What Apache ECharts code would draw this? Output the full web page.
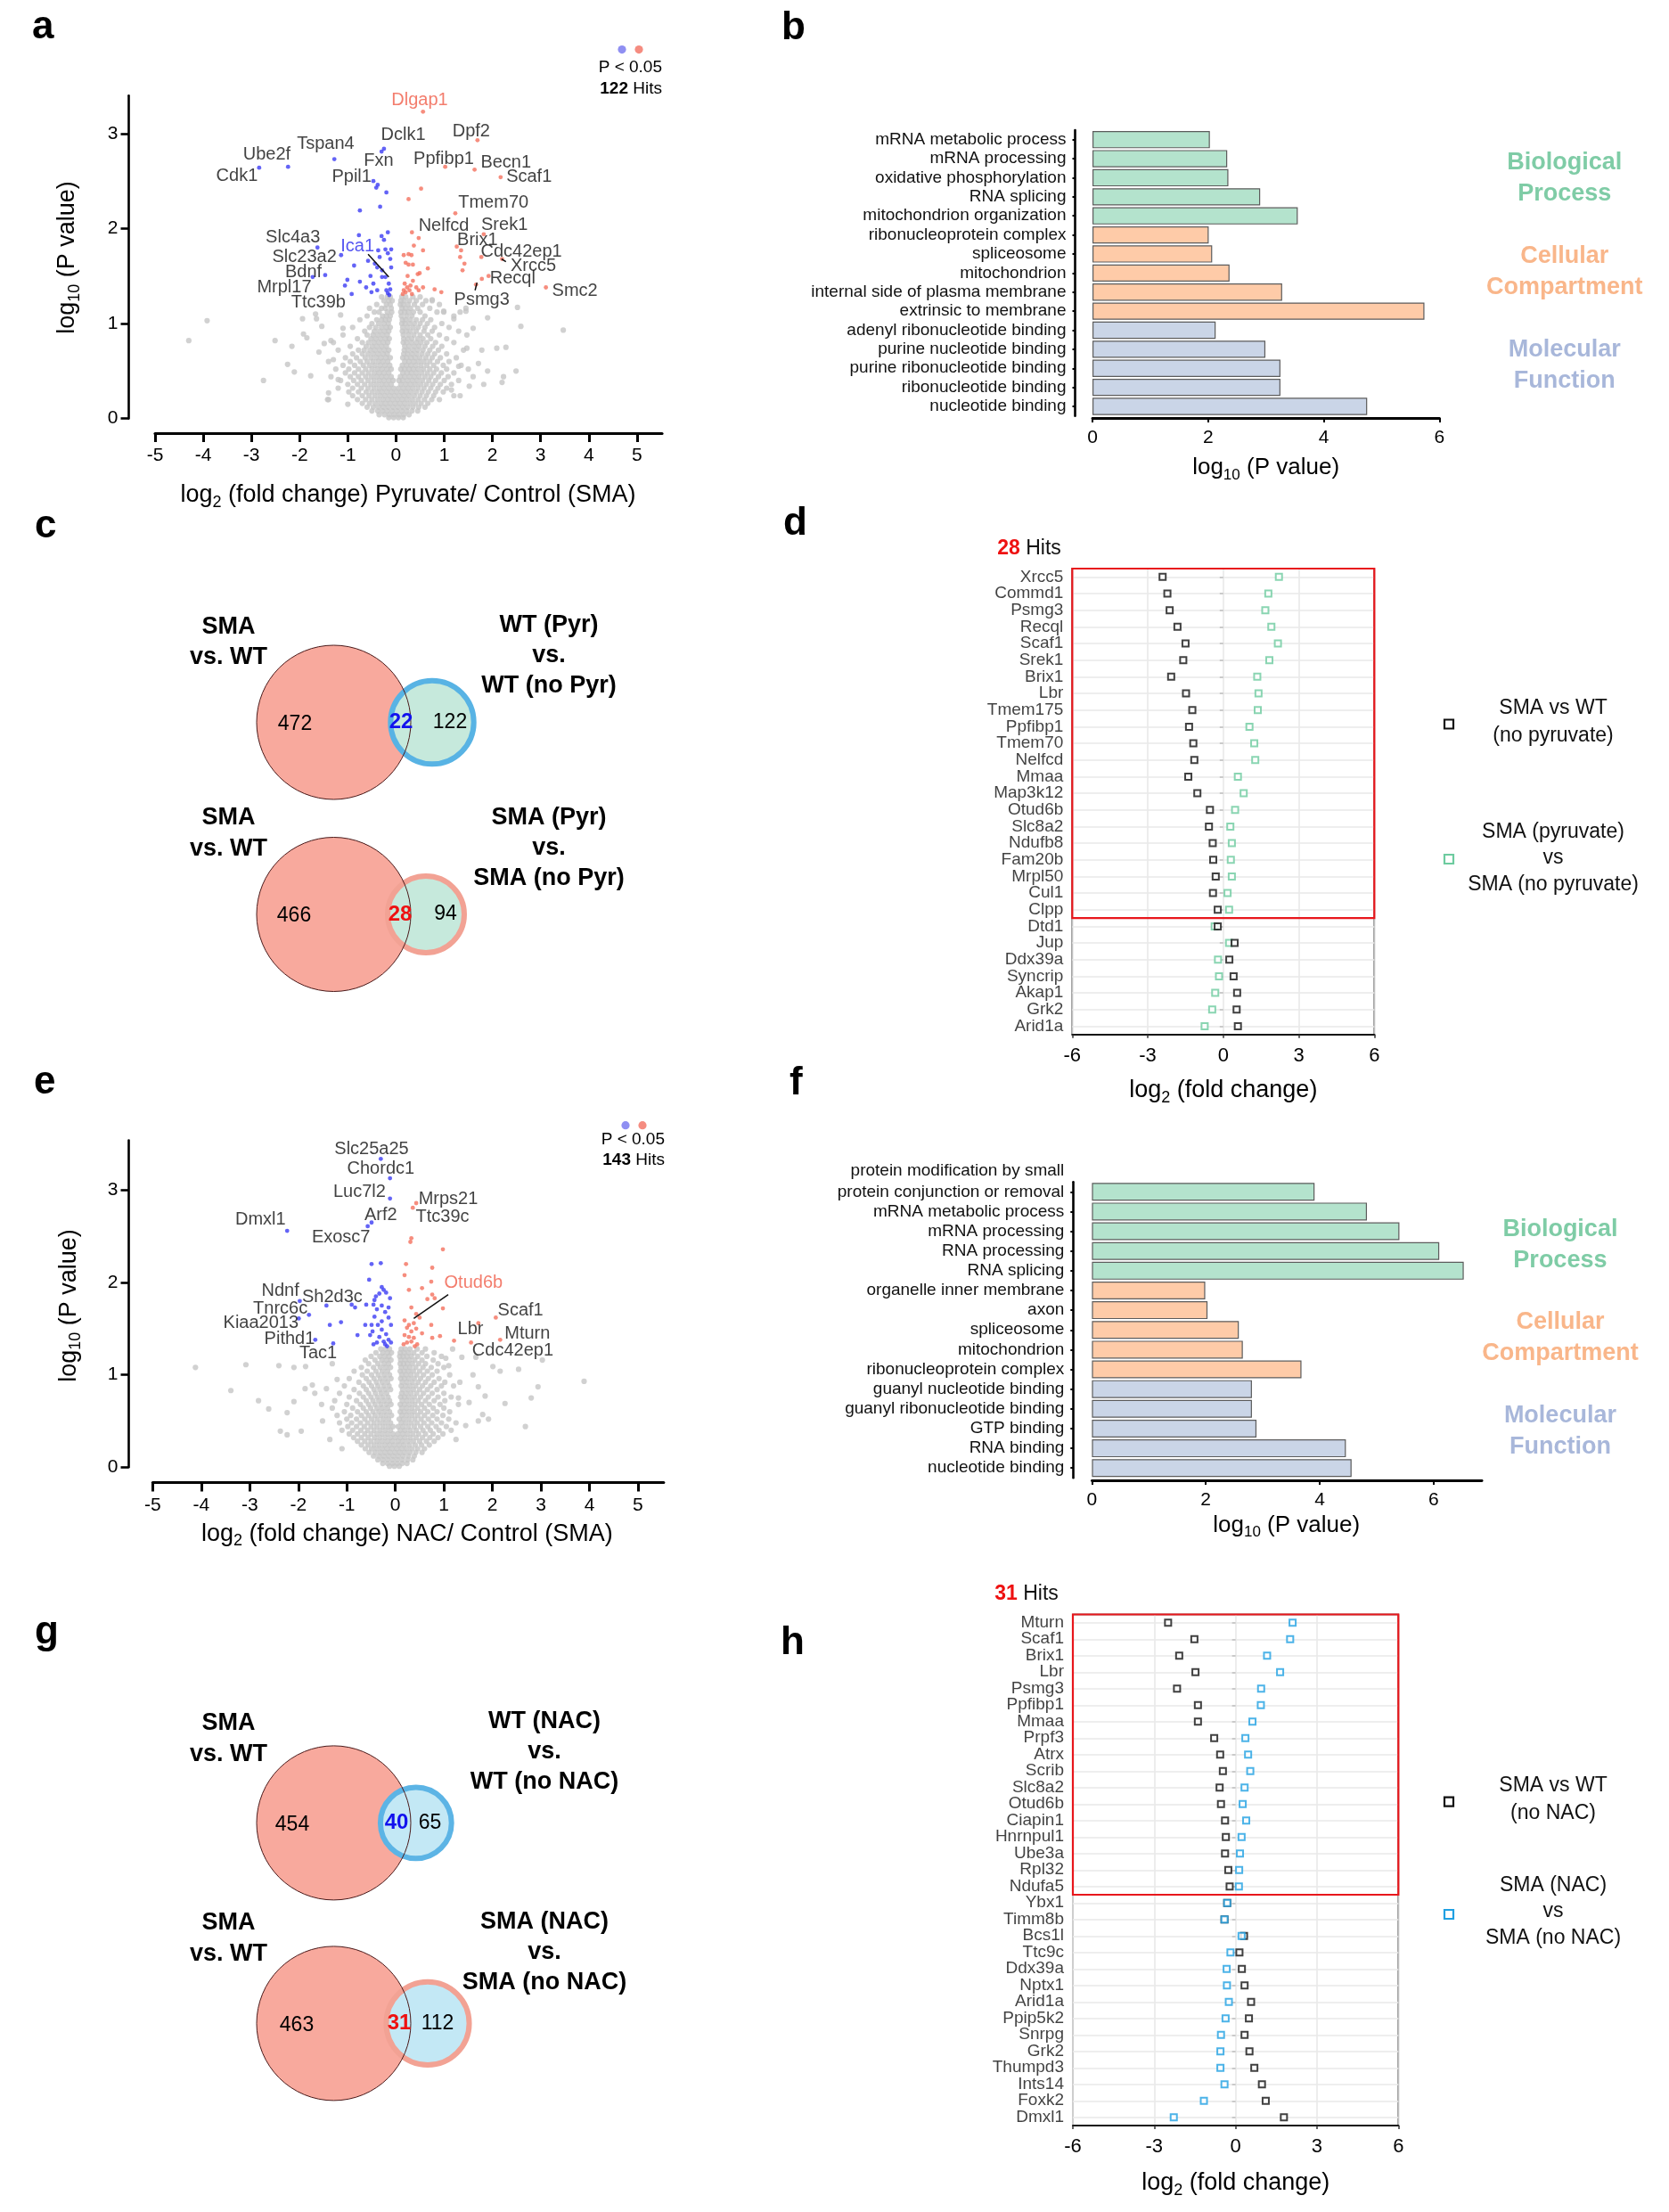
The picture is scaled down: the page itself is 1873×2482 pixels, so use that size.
<!DOCTYPE html>
<html><head><meta charset="utf-8">
<script src="https://cdn.jsdelivr.net/npm/echarts@6/dist/echarts.min.js"></script>
<style>html,body{margin:0;padding:0;background:#fff}#c{width:1873px;height:2482px}</style>
</head><body><div id="c"></div>
<script>
const FONT = "'Liberation Sans', Arial, Helvetica, sans-serif";

// ---------------- Panel a: volcano Pyruvate / Control (SMA)
const grayRowsA = [
 [1.28,[-0.3,-0.18,-0.12,0.12,0.2,0.35,0.5]],
 [1.24,[-0.25,-0.15,-0.08,0.1,0.17,0.28,0.42,0.62,0.75]],
 [1.2,[-0.4,-0.2,-0.12,0.09,0.15,0.25,0.38,0.55,0.9]],
 [1.16,[-0.55,-0.3,-0.22,-0.1,0.12,0.2,0.3,0.45,0.7,1.45]],
 [1.12,[-0.45,-0.35,-0.18,-0.09,0.1,0.18,0.26,0.36,0.5,0.85,0.99]],
 [1.08,[-0.6,-0.28,-0.2,-0.12,0.11,0.22,0.33,0.6,1.2]],
 [1.04,[-0.75,-0.4,-0.3,-0.22,-0.14,0.13,0.2,0.3,0.42,0.55,0.72]],
 [1.0,[-0.5,-0.36,-0.25,-0.16,0.12,0.19,0.28,0.38,0.5,0.65,0.95]],
 [0.96,[-0.9,-0.55,-0.42,-0.3,-0.2,-0.12,0.14,0.24,0.35,0.46,0.6,0.8,1.1]],
 [0.92,[-0.65,-0.45,-0.34,-0.24,-0.15,0.13,0.21,0.3,0.42,0.58,0.75,1.3]],
 [0.88,[-1.1,-0.6,-0.48,-0.38,-0.28,-0.18,0.15,0.26,0.37,0.5,0.66,0.9]],
 [0.84,[-0.8,-0.52,-0.42,-0.32,-0.22,-0.14,0.16,0.24,0.33,0.45,0.56,0.72,1.05]],
 [0.8,[-1.3,-0.7,-0.57,-0.46,-0.36,-0.26,-0.17,0.15,0.22,0.32,0.42,0.52,0.64,0.82,1.2]],
 [0.76,[-0.95,-0.62,-0.5,-0.4,-0.3,-0.2,0.18,0.27,0.38,0.48,0.6,0.76,0.95]],
 [0.72,[-1.2,-0.78,-0.66,-0.54,-0.44,-0.34,-0.24,-0.15,0.17,0.25,0.35,0.45,0.56,0.7,0.88,1.4]],
 [0.68,[-0.9,-0.7,-0.58,-0.47,-0.37,-0.27,-0.18,0.16,0.24,0.33,0.43,0.54,0.66,0.8,1.05]],
 [0.64,[-1.05,-0.82,-0.64,-0.52,-0.41,-0.31,-0.21,-0.12,0.14,0.22,0.31,0.4,0.5,0.62,0.75,0.92,1.25]],
 [0.6,[-1.4,-0.95,-0.74,-0.6,-0.48,-0.37,-0.27,-0.17,0.18,0.27,0.37,0.47,0.58,0.7,0.86,1.1]],
 [0.56,[-1.1,-0.86,-0.68,-0.55,-0.44,-0.33,-0.23,-0.13,0.13,0.22,0.31,0.41,0.52,0.64,0.78,0.98,1.35]],
 [0.52,[-1.25,-0.98,-0.78,-0.63,-0.5,-0.39,-0.29,-0.19,-0.1,0.1,0.18,0.27,0.36,0.46,0.57,0.7,0.84,1.05,1.5]],
 [0.48,[-1.05,-0.86,-0.7,-0.57,-0.45,-0.35,-0.25,-0.15,0.14,0.23,0.32,0.42,0.53,0.65,0.78,0.94,1.2]],
 [0.44,[-1.35,-0.95,-0.78,-0.63,-0.51,-0.4,-0.3,-0.2,-0.1,0.09,0.18,0.28,0.38,0.48,0.6,0.72,0.88,1.08,1.6]],
 [0.4,[-1.15,-0.88,-0.72,-0.58,-0.46,-0.35,-0.25,-0.15,-0.06,0.06,0.14,0.24,0.34,0.44,0.55,0.68,0.82,1.0,1.3]],
 [0.36,[-1.0,-0.8,-0.65,-0.52,-0.41,-0.3,-0.2,-0.1,0.1,0.2,0.3,0.4,0.51,0.63,0.76,0.92,1.15]],
 [0.32,[-1.2,-0.9,-0.72,-0.58,-0.46,-0.35,-0.25,-0.15,-0.05,0.05,0.15,0.25,0.35,0.46,0.58,0.72,0.87,1.05]],
 [0.28,[-0.98,-0.78,-0.62,-0.5,-0.39,-0.29,-0.19,-0.09,0.01,0.11,0.21,0.31,0.42,0.54,0.67,0.82,0.98]],
 [0.24,[-0.9,-0.7,-0.56,-0.44,-0.33,-0.23,-0.13,-0.03,0.07,0.17,0.27,0.38,0.5,0.63,0.78,1.2]],
 [0.2,[-1.4,-0.8,-0.63,-0.5,-0.38,-0.27,-0.17,-0.07,0.03,0.13,0.23,0.34,0.46,0.59,0.74,0.9]],
 [0.16,[-0.7,-0.55,-0.43,-0.32,-0.22,-0.12,-0.02,0.08,0.18,0.29,0.4,0.52,0.66]],
 [0.12,[-0.6,-0.47,-0.36,-0.26,-0.16,-0.06,0.04,0.14,0.24,0.35,0.47,0.6]],
 [0.08,[-0.5,-0.38,-0.28,-0.18,-0.08,0.02,0.12,0.22,0.33,0.45]],
 [0.04,[-0.35,-0.24,-0.14,-0.04,0.06,0.16,0.27]],
 [0.01,[-0.15,-0.05,0.05,0.15]]
];
const grayOutA = [[-4.30,0.82],[-3.92,1.03],[-2.75,0.40],[-2.51,0.82],[-2.25,0.57],[-2.16,0.76],[-2.11,0.49],[-1.94,1.05],[-1.92,0.89],[-1.85,0.85],[-1.77,0.45],[-1.67,1.10],[-1.65,1.05],[-1.54,0.97],[-1.49,0.79],[-1.42,0.20],[-1.40,0.27],[-1.35,0.82],[-1.2,0.41],[-1.15,1.09],[-1.1,0.95],[-1.0,0.15],[-1.3,0.62],[-1.6,0.7],
 [2.52,1.17],[2.59,0.97],[3.47,0.93],[1.90,1.06],[2.28,0.75],[2.09,0.74],[2.49,0.50],[2.23,0.44],[2.20,0.38],[1.82,0.36],[1.9,0.5],[1.71,0.58],[1.78,0.72],[1.47,0.88],[1.47,0.74],[1.52,0.34],[1.33,0.24],[0.99,1.13],[0.75,1.25],[1.45,1.13],[1.33,1.12],[1.2,1.05],[1.6,0.95],[1.3,0.55],[1.15,0.3]];
const blueA = [[-2.84,2.64],[-2.24,2.65],[-1.28,2.73],[-0.25,2.84],[-0.30,2.81],[-0.47,2.50],[-0.41,2.43],[-0.38,2.46],[-0.20,2.38],[-0.33,2.23],[-0.75,2.19],[-0.77,1.93],[-0.30,1.92],[-0.17,1.96],[-0.25,1.88],[-0.22,1.78],[-0.37,1.77],[-1.63,1.80],[-1.14,1.72],[-0.87,1.61],[-1.47,1.51],[-1.73,1.49],[-1.01,1.46],[-1.06,1.40],[-0.75,1.44],[-0.92,1.31],[-0.58,1.66],[-0.53,1.50],[-0.47,1.42],[-0.34,1.70],[-0.12,1.68],[-0.10,1.59],[-0.29,1.56],[-0.22,1.49],[-0.15,1.42],[-0.20,1.35],[-0.17,1.32],[-0.39,1.35],[-0.51,1.33],[-0.29,1.49],[-0.44,1.63],[-0.39,1.59],[-0.17,1.74],[-0.10,1.78],[-0.62,1.38],[-0.14,1.30],[-0.12,1.36]];
const redA = [[0.56,3.23],[1.69,2.93],[1.02,2.65],[1.63,2.62],[2.17,2.54],[0.52,2.42],[0.26,2.31],[1.23,2.16],[0.33,1.96],[0.47,1.90],[0.37,1.82],[0.56,1.77],[0.16,1.72],[0.26,1.73],[0.32,1.72],[0.20,1.64],[0.26,1.62],[0.35,1.62],[0.66,1.58],[0.45,1.52],[0.49,1.53],[0.24,1.50],[0.35,1.45],[0.18,1.42],[0.23,1.38],[0.16,1.35],[0.20,1.33],[0.28,1.35],[0.33,1.31],[0.42,1.38],[0.47,1.35],[0.56,1.38],[0.80,1.36],[0.94,1.33],[1.82,1.94],[1.26,1.81],[1.35,1.77],[1.33,1.70],[1.42,1.63],[1.38,1.56],[1.77,1.70],[2.20,1.68],[1.78,1.47],[1.92,1.50],[1.66,1.41],[3.11,1.38],[0.14,1.31],[0.30,1.40]];
const labelsA = [['Dlgap1',0.49,3.35,'r'],['Dclk1',0.15,2.98,''],['Dpf2',1.56,3.02,''],['Tspan4',-1.46,2.89,''],['Ube2f',-2.68,2.78,''],['Fxn',-0.36,2.71,''],['Ppfibp1',0.99,2.73,''],['Becn1',2.28,2.69,''],['Cdk1',-3.30,2.55,''],['Ppil1',-0.92,2.54,''],['Scaf1',2.76,2.54,''],['Tmem70',2.02,2.27,''],['Nelfcd',0.99,2.03,''],['Srek1',2.25,2.04,''],['Slc4a3',-2.14,1.91,''],['Brix1',1.69,1.88,''],['Ica1',-0.80,1.81,'b'],['Cdc42ep1',2.60,1.76,''],['Slc23a2',-1.90,1.70,''],['Xrcc5',2.85,1.61,''],['Bdnf',-1.92,1.54,''],['Recql',2.42,1.47,''],['Mrpl17',-2.32,1.38,''],['Smc2',3.71,1.34,''],['Psmg3',1.78,1.25,''],['Ttc39b',-1.61,1.22,'']];
const leaderA = [[[-0.58,1.73],[-0.15,1.49]],[[1.68,1.43],[1.64,1.35]],[[2.19,1.68],[2.28,1.65]]];
const xTicksVolcano = [-5,-4,-3,-2,-1,0,1,2,3,4,5];
const yTicksVolcano = [0,1,2,3];

// ---------------- Panel e: volcano NAC / Control (SMA)
const grayRowsE = [
 [1.28,[-0.3,-0.2,-0.12,0.12,0.2,0.3,0.45,0.62]],
 [1.24,[-0.4,-0.26,-0.16,-0.08,0.1,0.18,0.27,0.38,0.55,0.8]],
 [1.2,[-0.5,-0.32,-0.22,-0.13,0.09,0.16,0.24,0.33,0.46,0.65,0.95]],
 [1.16,[-0.62,-0.42,-0.28,-0.18,-0.09,0.11,0.2,0.29,0.4,0.55,0.78]],
 [1.12,[-0.55,-0.36,-0.24,-0.14,0.1,0.17,0.25,0.35,0.48,0.62,0.88]],
 [1.08,[-0.7,-0.45,-0.31,-0.2,-0.1,0.12,0.21,0.3,0.42,0.57,0.74,1.0]],
 [1.04,[-0.85,-0.58,-0.4,-0.27,-0.16,0.1,0.18,0.27,0.37,0.5,0.66,0.86]],
 [1.0,[-0.68,-0.49,-0.35,-0.23,-0.12,0.13,0.22,0.32,0.44,0.58,0.76,1.12]],
 [0.96,[-0.95,-0.6,-0.44,-0.31,-0.2,-0.09,0.11,0.19,0.28,0.39,0.52,0.68,0.9]],
 [0.92,[-0.75,-0.54,-0.39,-0.27,-0.16,0.14,0.24,0.35,0.47,0.62,0.8,1.02]],
 [0.88,[-1.05,-0.66,-0.49,-0.36,-0.24,-0.13,0.12,0.21,0.31,0.42,0.56,0.73,0.95,1.2]],
 [0.84,[-0.85,-0.6,-0.44,-0.32,-0.21,-0.1,0.15,0.26,0.37,0.5,0.66,0.86]],
 [0.8,[-1.15,-0.74,-0.55,-0.41,-0.29,-0.18,0.13,0.22,0.32,0.44,0.58,0.76,1.0]],
 [0.76,[-0.95,-0.66,-0.5,-0.37,-0.26,-0.15,0.11,0.19,0.28,0.39,0.52,0.68,0.88,1.15]],
 [0.72,[-1.25,-0.8,-0.6,-0.46,-0.34,-0.23,-0.12,0.14,0.24,0.35,0.47,0.62,0.8,1.02]],
 [0.68,[-1.0,-0.72,-0.55,-0.42,-0.3,-0.19,-0.09,0.1,0.19,0.29,0.4,0.54,0.7,0.92,1.3]],
 [0.64,[-1.3,-0.88,-0.66,-0.51,-0.38,-0.27,-0.16,0.13,0.23,0.34,0.46,0.6,0.78,1.0]],
 [0.6,[-1.05,-0.78,-0.6,-0.46,-0.34,-0.23,-0.12,0.1,0.18,0.28,0.39,0.52,0.67,0.86,1.12]],
 [0.56,[-1.2,-0.92,-0.7,-0.55,-0.42,-0.3,-0.19,-0.08,0.13,0.23,0.34,0.46,0.6,0.77,0.98]],
 [0.52,[-1.0,-0.8,-0.63,-0.49,-0.37,-0.25,-0.14,0.08,0.17,0.28,0.4,0.53,0.68,0.86,1.1]],
 [0.48,[-1.15,-0.9,-0.72,-0.57,-0.44,-0.32,-0.21,-0.1,0.12,0.22,0.33,0.45,0.59,0.75,0.95,1.25]],
 [0.44,[-0.98,-0.8,-0.64,-0.5,-0.38,-0.26,-0.15,-0.05,0.06,0.16,0.27,0.39,0.52,0.67,0.84,1.05]],
 [0.4,[-1.1,-0.88,-0.71,-0.57,-0.44,-0.32,-0.21,-0.1,0.1,0.2,0.31,0.43,0.57,0.72,0.9,1.15]],
 [0.36,[-0.95,-0.78,-0.63,-0.5,-0.38,-0.27,-0.16,-0.05,0.05,0.15,0.25,0.36,0.48,0.62,0.78,0.98]],
 [0.32,[-0.86,-0.7,-0.56,-0.43,-0.32,-0.21,-0.1,0.0,0.1,0.2,0.31,0.43,0.56,0.71,0.88]],
 [0.28,[-0.78,-0.63,-0.5,-0.38,-0.27,-0.16,-0.06,0.05,0.15,0.26,0.37,0.5,0.64,0.8]],
 [0.24,[-0.7,-0.56,-0.44,-0.33,-0.22,-0.12,-0.02,0.08,0.18,0.29,0.41,0.54,0.7]],
 [0.2,[-0.62,-0.49,-0.38,-0.27,-0.17,-0.07,0.03,0.13,0.23,0.34,0.46,0.6]],
 [0.16,[-0.54,-0.42,-0.31,-0.21,-0.11,-0.01,0.09,0.19,0.3,0.42,0.55]],
 [0.12,[-0.45,-0.34,-0.24,-0.14,-0.04,0.06,0.16,0.27,0.39]],
 [0.08,[-0.36,-0.26,-0.16,-0.06,0.04,0.14,0.25,0.36]],
 [0.04,[-0.26,-0.16,-0.06,0.04,0.14,0.24]],
 [0.01,[-0.12,-0.02,0.08]]
];
const grayOutE = [[-4.12,1.08],[-3.08,1.11],[-3.39,0.83],[-2.82,0.72],[-2.61,0.63],[-2.40,1.10],[-2.09,1.08],[-1.85,1.09],[-2.37,0.39],[-2.23,0.35],[-1.94,0.39],[-2.23,0.59],[-2.09,0.71],[-1.86,0.85],[-1.71,0.89],[-1.66,0.8],[-1.52,0.68],[-1.42,0.85],[-1.3,1.12],[-1.2,0.95],[-1.5,0.5],[-1.35,0.3],[-1.1,0.2],
 [3.89,0.93],[3.03,1.16],[2.94,0.87],[2.54,1.06],[2.80,0.75],[2.68,0.44],[2.26,0.69],[2.16,1.04],[2.01,1.09],[1.92,0.52],[1.71,0.50],[1.80,0.57],[1.85,0.77],[1.71,0.87],[1.66,1.19],[1.37,1.19],[1.18,1.28],[1.04,1.18],[1.33,0.92],[1.52,0.70],[1.45,0.45],[1.25,0.3],[1.6,1.0],[1.1,1.1],[1.3,0.75]];
const blueE = [[-0.30,3.34],[-0.11,3.13],[-0.11,2.91],[-0.49,2.65],[-0.57,2.61],[-2.23,2.56],[-0.49,2.20],[-0.30,2.21],[-0.54,2.03],[-0.28,1.95],[-0.24,1.92],[-0.33,1.88],[-0.40,1.85],[-0.19,1.89],[-0.11,1.83],[-0.43,1.81],[-0.45,1.76],[-0.28,1.75],[-0.14,1.73],[-0.38,1.71],[-0.21,1.68],[-0.43,1.63],[-0.28,1.58],[-0.14,1.62],[-0.36,1.54],[-0.49,1.54],[-0.62,1.54],[-0.09,1.54],[-0.47,1.47],[-0.28,1.49],[-0.19,1.44],[-0.33,1.41],[-0.52,1.43],[-0.14,1.38],[-0.24,1.36],[-0.38,1.35],[-0.09,1.35],[-0.21,1.33],[-0.45,1.33],[-0.17,1.31],[-0.78,1.43],[-0.83,1.73],[-0.90,1.76],[-0.60,1.76],[-1.42,1.75],[-1.12,1.57],[-1.35,1.54],[-1.97,1.80],[-1.78,1.65],[-1.99,1.61],[-1.65,1.38],[-1.28,1.34]];
const redE = [[0.43,2.86],[0.36,2.81],[0.33,2.48],[0.31,2.44],[0.98,2.36],[0.22,2.20],[0.76,2.16],[0.19,2.08],[0.74,2.01],[0.28,1.92],[0.55,1.94],[0.76,1.87],[0.66,1.82],[0.81,1.83],[0.98,1.72],[0.33,1.73],[0.43,1.66],[0.19,1.59],[0.28,1.54],[0.38,1.56],[0.50,1.62],[0.74,1.54],[0.24,1.51],[0.33,1.47],[0.43,1.50],[0.19,1.43],[0.28,1.41],[0.38,1.40],[0.24,1.35],[0.33,1.36],[0.45,1.33],[0.17,1.33],[0.76,1.40],[0.92,1.42],[2.07,1.62],[1.71,1.56],[1.56,1.35],[1.21,1.37],[2.16,1.38],[0.40,1.31],[0.55,1.45]];
const labelsE = [['Slc25a25',-0.49,3.44,''],['Chordc1',-0.30,3.23,''],['Luc7l2',-0.74,2.98,''],['Mrps21',1.09,2.90,''],['Arf2',-0.30,2.73,''],['Ttc39c',0.97,2.71,''],['Dmxl1',-2.78,2.68,''],['Exosc7',-1.12,2.49,''],['Otud6b',1.61,2.00,'r'],['Ndnf',-2.37,1.91,''],['Sh2d3c',-1.30,1.84,''],['Tnrc6c',-2.37,1.72,''],['Scaf1',2.58,1.70,''],['Kiaa2013',-2.77,1.56,''],['Lbr',1.55,1.49,''],['Mturn',2.72,1.45,''],['Pithd1',-2.18,1.39,''],['Cdc42ep1',2.42,1.26,''],['Tac1',-1.59,1.23,'']];
const leaderE = [[[1.09,1.87],[0.38,1.61]]];

// ---------------- Panel b: GO terms (pyruvate)
const goCatsB = ['mRNA metabolic process','mRNA processing','oxidative phosphorylation','RNA splicing','mitochondrion organization','ribonucleoprotein complex','spliceosome','mitochondrion','internal side of plasma membrane','extrinsic to membrane','adenyl ribonucleotide binding','purine nucleotide binding','purine ribonucleotide binding','ribonucleotide binding','nucleotide binding'];
const goValsB = [2.03,2.33,2.35,2.90,3.55,2.01,2.07,2.37,3.28,5.74,2.13,2.99,3.25,3.25,4.75];
const goGroupB = ['BP','BP','BP','BP','BP','CC','CC','CC','CC','CC','MF','MF','MF','MF','MF'];

// ---------------- Panel f: GO terms (NAC)
const goCatsF = ['protein modification by small\nprotein conjunction or removal','mRNA metabolic process','mRNA processing','RNA processing','RNA splicing','organelle inner membrane','axon','spliceosome','mitochondrion','ribonucleoprotein complex','guanyl nucleotide binding','guanyl ribonucleotide binding','GTP binding','RNA binding','nucleotide binding'];
const goValsF = [3.91,4.83,5.40,6.10,6.53,1.99,2.03,2.58,2.65,3.68,2.81,2.81,2.89,4.46,4.56];
const goGroupF = ['BP','BP','BP','BP','BP','CC','CC','CC','CC','CC','MF','MF','MF','MF','MF'];
const goTicks = [0,2,4,6];

// ---------------- Panel d: 28 hits
const dGenes = ['Xrcc5','Commd1','Psmg3','Recql','Scaf1','Srek1','Brix1','Lbr','Tmem175','Ppfibp1','Tmem70','Nelfcd','Mmaa','Map3k12','Otud6b','Slc8a2','Ndufb8','Fam20b','Mrpl50','Cul1','Clpp','Dtd1','Jup','Ddx39a','Syncrip','Akap1','Grk2','Arid1a'];
const dSmaWt = [-2.41,-2.22,-2.13,-1.82,-1.50,-1.59,-2.07,-1.48,-1.23,-1.36,-1.19,-1.15,-1.39,-1.03,-0.53,-0.57,-0.42,-0.40,-0.30,-0.41,-0.22,-0.22,0.45,0.24,0.41,0.55,0.53,0.58];
const dPyr = [2.21,1.79,1.67,1.91,2.17,1.83,1.35,1.40,1.37,1.04,1.23,1.27,0.58,0.81,0.47,0.28,0.34,0.30,0.34,0.17,0.23,-0.34,0.23,-0.21,-0.17,-0.32,-0.44,-0.74];
const dHits = 21; // rows inside red box

// ---------------- Panel h: 31 hits
const hGenes = ['Mturn','Scaf1','Brix1','Lbr','Psmg3','Ppfibp1','Mmaa','Prpf3','Atrx','Scrib','Slc8a2','Otud6b','Ciapin1','Hnrnpul1','Ube3a','Rpl32','Ndufa5','Ybx1','Timm8b','Bcs1l','Ttc9c','Ddx39a','Nptx1','Arid1a','Ppip5k2','Snrpg','Grk2','Thumpd3','Ints14','Foxk2','Dmxl1'];
const hSmaWt = [-2.49,-1.52,-2.08,-1.48,-2.16,-1.39,-1.39,-0.79,-0.57,-0.47,-0.59,-0.54,-0.39,-0.36,-0.39,-0.27,-0.22,-0.31,-0.41,0.31,0.14,0.23,0.33,0.57,0.49,0.33,0.51,0.69,0.97,1.11,1.78];
const hNac = [2.10,2.01,1.16,1.64,0.94,0.93,0.62,0.36,0.46,0.54,0.33,0.26,0.39,0.22,0.16,0.13,0.12,-0.31,-0.41,0.22,-0.19,-0.33,-0.32,-0.25,-0.37,-0.54,-0.56,-0.56,-0.41,-1.17,-2.28];
const hHits = 17;
const dotTicks = [-6,-3,0,3,6];

// ---------------- Venn counts [only SMA vs WT, overlap, only other]
const vennC1 = [472,22,122];
const vennC2 = [466,28,94];
const vennG1 = [454,40,65];
const vennG2 = [463,31,112];

// ================= build =================
const GROUP_COL = {BP:'#b4e3cd', CC:'#fecba8', MF:'#cad5e7'};
const flatRows = rows => [].concat(...rows.map(r => r[1].map(x => [x, r[0]])));
const grayA = grayOutA.concat(flatRows(grayRowsA));
const grayE = grayOutE.concat(flatRows(grayRowsE));

const grids = [
 {left:174, top:107.2, width:569, height:362.4},
 {left:1226, top:146, width:389.4, height:320.7},
 {left:1203.3, top:638, width:339, height:522.8, show:true, borderColor:'#222', borderWidth:1.4},
 {left:171.4, top:1279.6, width:573.4, height:366.6},
 {left:1225.4, top:1326.2, width:437.7, height:332.1},
 {left:1204, top:1811.5, width:365.3, height:573.5, show:true, borderColor:'#222', borderWidth:1.4}
].map(g => Object.assign({containLabel:false, outerBoundsMode:'none'}, g));

const blk = '#000';
function volcX(gi, max, off) {
 return {type:'value', gridIndex:gi, min:-5, max:max, offset:off, splitLine:{show:false},
  axisLine:{show:true, onZero:false, lineStyle:{color:blk, width:3.2}},
  axisTick:{show:true, customValues:xTicksVolcano, length:10, lineStyle:{color:blk, width:3}},
  axisLabel:{customValues:xTicksVolcano, showMinLabel:true, showMaxLabel:true, fontSize:21, color:blk, margin:15, fontFamily:FONT}};
}
function volcY(gi, max, off) {
 return {type:'value', gridIndex:gi, min:0, max:max, offset:off, splitLine:{show:false},
  axisLine:{show:true, onZero:false, lineStyle:{color:blk, width:2.6}},
  axisTick:{show:true, customValues:yTicksVolcano, length:9, lineStyle:{color:blk, width:2.6}},
  axisLabel:{customValues:yTicksVolcano, showMinLabel:true, showMaxLabel:true, fontSize:21, color:blk, margin:12, fontFamily:FONT}};
}
function goX(gi, max, off) {
 return {type:'value', gridIndex:gi, min:0, max:max, offset:off, splitLine:{show:false},
  axisLine:{show:true, onZero:false, lineStyle:{color:blk, width:2.8}},
  axisTick:{show:true, customValues:goTicks, length:5, lineStyle:{color:blk, width:2}},
  axisLabel:{customValues:goTicks, showMinLabel:true, showMaxLabel:true, fontSize:21, color:blk, margin:12, fontFamily:FONT}};
}
function goY(gi, cats, off) {
 return {type:'category', gridIndex:gi, data:cats, inverse:true, offset:off,
  axisLine:{show:true, onZero:false, lineStyle:{color:blk, width:2.6}},
  axisTick:{show:true, alignWithLabel:true, interval:0, length:3, lineStyle:{color:blk, width:2}},
  axisLabel:{interval:0, hideOverlap:false, showMinLabel:true, showMaxLabel:true, fontSize:19, color:'#111', margin:10, fontFamily:FONT, lineHeight:24,
   formatter: v => v.indexOf('\n') >= 0 ? v + '\n ' : v}};
}
function dotX(gi) {
 return {type:'value', gridIndex:gi, min:-6, max:6, interval:1.5,
  splitLine:{show:true, lineStyle:{color:'#e9e9e9', width:1.6}},
  axisLine:{show:true, onZero:false, lineStyle:{color:'#111', width:2}},
  axisTick:{show:true, customValues:dotTicks, length:4, lineStyle:{color:'#333', width:1.5}},
  axisLabel:{customValues:dotTicks, showMinLabel:true, showMaxLabel:true, fontSize:22, color:blk, margin:13, fontFamily:FONT}};
}
function dotY(gi, genes) {
 const idx = genes.map((g, i) => i);
 return {type:'value', gridIndex:gi, min:-0.5, max:genes.length - 0.5, inverse:true,
  splitLine:{show:false}, axisLine:{show:false},
  axisTick:{show:true, customValues:idx, length:4, lineStyle:{color:'#444', width:1.5}},
  axisLabel:{show:false}};
}

const xAxes = [volcX(0, 5.52, 16.4), goX(1, 6, 2.3), dotX(2), volcX(3, 5.53, 17.2), goX(4, 6.85, 2.7), dotX(5)];
const yAxes = [volcY(0, 3.4, 29.5), goY(1, goCatsB, 19.5), dotY(2, dGenes), volcY(3, 3.54, 26.9), goY(4, goCatsF, 21.1), dotY(5, hGenes)];

function volcanoSeries(ai, gray, blue, red, labels, leaders) {
 return [
  {type:'scatter', xAxisIndex:ai, yAxisIndex:ai, data:gray, symbolSize:6.2, itemStyle:{color:'#c6c6c6'}, silent:true, z:2},
  {type:'scatter', xAxisIndex:ai, yAxisIndex:ai, data:blue, symbolSize:4.8, itemStyle:{color:'#3c3cf4'}, silent:true, z:3},
  {type:'scatter', xAxisIndex:ai, yAxisIndex:ai, data:red, symbolSize:4.8, itemStyle:{color:'#f4705e'}, silent:true, z:3},
  {type:'lines', coordinateSystem:'cartesian2d', xAxisIndex:ai, yAxisIndex:ai, data:leaders.map(c => ({coords:c})),
   lineStyle:{color:'#111', width:1.5, opacity:1}, silent:true, z:4},
  {type:'scatter', xAxisIndex:ai, yAxisIndex:ai, clip:false, symbolSize:1, itemStyle:{color:'rgba(0,0,0,0)'}, silent:true, z:5,
   label:{show:true, position:'inside', formatter:'{b}', fontSize:20, fontFamily:FONT, color:'#111'},
   data: labels.map(l => ({name:l[0], value:[l[1], l[2]],
     label:{color: l[3] === 'r' ? '#f05c48' : (l[3] === 'b' ? '#2a2aee' : '#111')}}))}
 ];
}
function barSeries(ai, vals, groups, bw) {
 return {type:'bar', xAxisIndex:ai, yAxisIndex:ai, barWidth:bw, silent:true,
  itemStyle:{borderColor:'#5c5c5c', borderWidth:1.2},
  data: vals.map((v, i) => ({value:v, itemStyle:{color:GROUP_COL[groups[i]]}}))};
}
function dotSeries(ai, genes, aVals, aCol, bVals, bCol, hits, aTop) {
 const mk = (vals, col, z) => ({type:'scatter', xAxisIndex:ai, yAxisIndex:ai, symbol:'rect', symbolSize:7, z:z, silent:true,
  itemStyle:{color:'#ffffff', borderColor:col, borderWidth:2}, data: vals.map((v, i) => [v, i])});
 return [
  {type:'scatter', xAxisIndex:ai, yAxisIndex:ai, data:[], silent:true,
   markLine:{silent:true, symbol:'none', z:1, animation:false, label:{show:false},
    lineStyle:{color:'#e9e9e9', width:1.7, type:'solid'}, data: genes.map((g, i) => ({yAxis:i}))},
   markArea:{silent:true, z:6, animation:false, itemStyle:{color:'rgba(0,0,0,0)', borderColor:'#e8171c', borderWidth:2.2},
    data:[[{coord:[-6, -0.5]}, {coord:[6, hits - 0.5]}]]}},
  // gene names as row labels, placed left of the plot through the axis scale
  {type:'scatter', xAxisIndex:ai, yAxisIndex:ai, clip:false, symbolSize:1, silent:true, z:5,
   itemStyle:{color:'rgba(0,0,0,0)'},
   label:{show:true, position:'left', distance:9.5, formatter:'{b}', fontSize:19, color:'#111', fontFamily:FONT},
   labelLayout:{hideOverlap:false},
   data: genes.map((g, i) => ({name:g, value:[-6, i]}))},
  mk(bVals, bCol, aTop ? 3 : 4),
  mk(aVals, aCol, aTop ? 4 : 3)
 ];
}

const series = [].concat(
 volcanoSeries(0, grayA, blueA, redA, labelsA, leaderA),
 [barSeries(1, goValsB, goGroupB, 19.3)],
 dotSeries(2, dGenes, dSmaWt, '#111111', dPyr, '#6dcb9f', dHits, true),
 volcanoSeries(3, grayE, blueE, redE, labelsE, leaderE),
 [barSeries(4, goValsF, goGroupF, 20)],
 dotSeries(5, hGenes, hSmaWt, '#111111', hNac, '#1fa0e2', hHits, false)
);

// ---------------- graphic (texts, venn)
const G = [];
function txt(x, y, text, st, extra) {
 G.push(Object.assign({type:'text', x:x, y:y, silent:true, z:10,
  style:Object.assign({text:text, fontFamily:FONT, fontSize:20, fill:'#000', align:'center', verticalAlign:'middle'}, st || {})}, extra || {}));
}
function richSub(main, sub, rest, fs, subFs) {
 return {text:'{m|' + main + '}{s|' + sub + '}{m|' + rest + '}',
  rich:{m:{fontSize:fs, fontFamily:FONT, fill:'#000', lineHeight:fs + 7},
        s:{fontSize:subFs, fontFamily:FONT, fill:'#000', lineHeight:subFs, verticalAlign:'bottom'}}};
}
// panel letters
[['a',36,31],['b',877,32],['c',39,590.7],['d',879,588],['e',38,1215],['f',886,1216],['g',39,1831.7],['h',876,1844]]
 .forEach(p => txt(p[1], p[2], p[0], {fontSize:44, fontWeight:'bold', align:'left'}));

// volcano legends
function volcLegend(cx, yDot, yP, yH, right, hits) {
 G.push({type:'circle', silent:true, z:10, shape:{cx:cx - 9.5, cy:yDot, r:4.6}, style:{fill:'#8f8ff2'}});
 G.push({type:'circle', silent:true, z:10, shape:{cx:cx + 9.5, cy:yDot, r:4.6}, style:{fill:'#f58c80'}});
 txt(right, yP, 'P < 0.05', {fontSize:19, align:'right'});
 txt(right, yH, '{b|' + hits + '}{n| Hits}', {align:'right',
  rich:{b:{fontSize:19, fontWeight:'bold', fontFamily:FONT, fill:'#000'}, n:{fontSize:19, fontFamily:FONT, fill:'#000'}}});
}
volcLegend(707.5, 55.6, 76, 100, 743, 122);
volcLegend(711.5, 1262.7, 1279, 1302, 746, 143);

// axis titles
txt(458, 555.6, '', richSub('log', '2', ' (fold change) Pyruvate/ Control (SMA)', 27, 18));
txt(76, 289, '', richSub('log', '10', ' (P value)', 27, 18), {rotation:Math.PI / 2});
txt(456.8, 1721.5, '', richSub('log', '2', ' (fold change) NAC/ Control (SMA)', 27, 18));
txt(77.4, 1465, '', richSub('log', '10', ' (P value)', 27, 18), {rotation:Math.PI / 2});
txt(1420.6, 525, '', richSub('log', '10', ' (P value)', 26, 17));
txt(1443.7, 1711.7, '', richSub('log', '10', ' (P value)', 26, 17));
txt(1372.8, 1224, '', richSub('log', '2', ' (fold change)', 27, 18));
txt(1386.7, 2450, '', richSub('log', '2', ' (fold change)', 27, 18));

// GO group labels
function groupLabels(x, ys) {
 const cols = ['#7fcca6', '#f9b68a', '#a8b7da'];
 const t = ['Biological\nProcess', 'Cellular\nCompartment', 'Molecular\nFunction'];
 ys.forEach((y, i) => txt(x, y, t[i], {fontSize:27, fontWeight:'bold', fill:cols[i], lineHeight:35}));
}
groupLabels(1755.7, [200, 305.5, 409.7]);
groupLabels(1750.9, [1396.7, 1501.2, 1605.8]);

// Hits titles
function hitsTitle(x, y, n) {
 txt(x, y, '{r|' + n + '}{k| Hits}', {rich:{r:{fontSize:23, fontWeight:'bold', fill:'#ee1111', fontFamily:FONT}, k:{fontSize:23, fill:'#111', fontFamily:FONT}}});
}
hitsTitle(1155, 615.4, dGenes.length);
hitsTitle(1152, 1789, hGenes.length);

// dot legends
function dotLegend(y1, t1, c1, y2, t2, c2, ty1, ty2) {
 G.push({type:'rect', silent:true, z:10, shape:{x:1621, y:y1 - 5, width:10, height:10}, style:{fill:'#fff', stroke:c1, lineWidth:2.2}});
 G.push({type:'rect', silent:true, z:10, shape:{x:1621, y:y2 - 5, width:10, height:10}, style:{fill:'#fff', stroke:c2, lineWidth:2.2}});
 txt(1743, ty1, t1, {fontSize:23, fill:'#111', lineHeight:30.5});
 txt(1743, ty2, t2, {fontSize:23, fill:'#111', lineHeight:29.6});
}
dotLegend(812.5, 'SMA vs WT\n(no pyruvate)', '#111', 964, 'SMA (pyruvate)\nvs\nSMA (no pyruvate)', '#6dcb9f', 810.2, 962.8);
dotLegend(2021.6, 'SMA vs WT\n(no NAC)', '#111', 2148, 'SMA (NAC)\nvs\nSMA (no NAC)', '#1fa0e2', 2019.2, 2145);

// Venn diagrams
function venn(cx, cy, dx, counts, ring, fillSmall, midCol, tx, leftLab, leftY, rightLab, rightX, rightY) {
 const R = 86.5;
 const r = R * Math.sqrt((counts[1] + counts[2]) / (counts[0] + counts[1]));
 G.push({type:'circle', silent:true, z:8, shape:{cx:cx, cy:cy, r:R}, style:{fill:'#f8a99d'}});
 G.push({type:'circle', silent:true, z:8, shape:{cx:cx + dx, cy:cy, r:r}, style:{fill:fillSmall, stroke:ring, lineWidth:6}});
 G.push({type:'circle', silent:true, z:8, shape:{cx:cx, cy:cy, r:R}, style:{fill:'none', stroke:'#4a1a1a', lineWidth:1}});
 txt(tx[0], cy + 2, String(counts[0]), {fontSize:23});
 txt(tx[1], cy, String(counts[1]), {fontSize:24, fontWeight:'bold', fill:midCol});
 txt(tx[2], cy, String(counts[2]), {fontSize:23});
 txt(cx - 118, leftY, leftLab, {fontSize:27, fontWeight:'bold', lineHeight:34.7});
 txt(rightX, rightY, rightLab, {fontSize:27, fontWeight:'bold', lineHeight:34});
}
venn(374.5, 810.5, 110.5, vennC1, '#58b3e4', '#c6e9dc', '#1212ee', [331, 450, 505], 'SMA\nvs. WT', 720.4, 'WT (Pyr)\nvs.\nWT (no Pyr)', 616, 736);
venn(374.5, 1026, 103.5, vennC2, '#f2a294', '#c6e9dc', '#ee1111', [330, 449, 500], 'SMA\nvs. WT', 935.3, 'SMA (Pyr)\nvs.\nSMA (no Pyr)', 616, 951.2);
venn(374.5, 2045.4, 92.3, vennG1, '#5cb4e5', '#c3e8f5', '#1212ee', [328, 445, 482.6], 'SMA\nvs. WT', 1951, 'WT (NAC)\nvs.\nWT (no NAC)', 611, 1966);
venn(374.5, 2270.4, 105.5, vennG2, '#f2a294', '#c3e8f5', '#ee1111', [333, 448, 491], 'SMA\nvs. WT', 2175, 'SMA (NAC)\nvs.\nSMA (no NAC)', 611, 2190.3);

const chart = echarts.init(document.getElementById('c'), null, {renderer:'canvas'});
chart.setOption({
 animation:false,
 backgroundColor:'#ffffff',
 textStyle:{fontFamily:FONT},
 grid:grids, xAxis:xAxes, yAxis:yAxes, series:series, graphic:G
});
</script></body></html>
